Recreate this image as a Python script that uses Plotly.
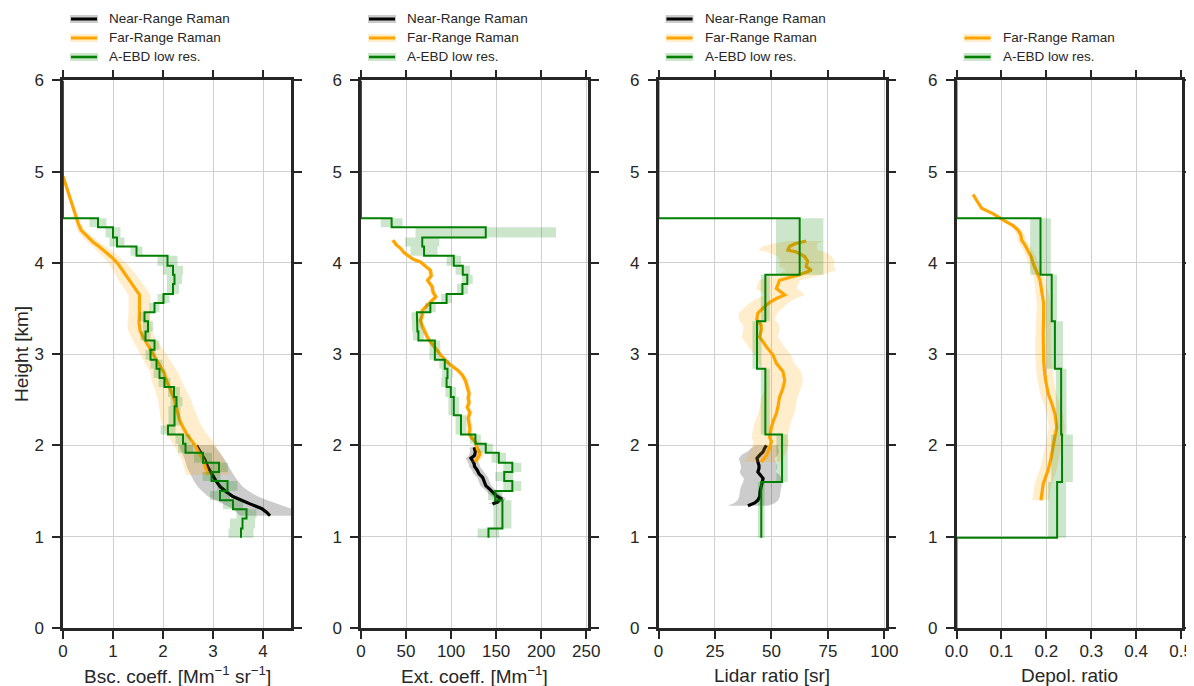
import plotly.graph_objects as go

# ---------------- data ----------------
# fine A-EBD height bin edges [km]
H_EDGES = [0.99, 1.09, 1.20, 1.30, 1.40, 1.50, 1.61, 1.71, 1.81, 1.92, 2.02, 2.12,
           2.22, 2.33, 2.43, 2.53, 2.64, 2.74, 2.84, 2.94, 3.05, 3.15, 3.25, 3.36,
           3.46, 3.56, 3.66, 3.77, 3.87, 3.97, 4.08, 4.18, 4.28, 4.39, 4.49]
# coarse A-EBD height bin edges [km]
H_COARSE = [0.99, 1.60, 2.12, 2.84, 3.36, 3.87, 4.49]

BSC_EBD = [3.56, 3.59, 3.67, 3.40, 3.14, 3.29, 2.97, 3.12, 2.80, 2.45, 2.40, 2.10,
           2.23, 2.23, 2.27, 2.22, 2.03, 1.93, 1.87, 1.75, 1.83, 1.65, 1.70, 1.63,
           1.83, 2.01, 2.20, 2.23, 2.20, 2.09, 1.47, 1.08, 1.00, 0.70]
BSC_EBD_ERR = [0.25, 0.25, 0.2, 0.2, 0.2, 0.2, 0.18, 0.18, 0.18, 0.15, 0.15, 0.15,
               0.12, 0.12, 0.12, 0.12, 0.12, 0.12, 0.12, 0.1, 0.1, 0.1, 0.1, 0.1,
               0.1, 0.12, 0.12, 0.15, 0.2, 0.2, 0.12, 0.15, 0.15, 0.17]

EXT_EBD = [141.5, 157, 157, 157, 149, 168, 159, 168, 153, 138.5, 127, 111,
           111, 103, 103, 99.7, 95, 96, 93, 82, 82, 63.7, 62.6, 62,
           77, 95, 112.6, 118, 113, 103, 70, 68, 138.5, 34]
EXT_EBD_ERR = [12, 10, 10, 10, 8, 10, 10, 10, 8, 8, 6, 6,
               6, 6, 6, 6, 6, 6, 6, 6, 6, 6, 6, 6,
               6, 6, 6, 6, 8, 8, 15, 19, 78, 12]

LR_EBD = [45.5, 54.7, 47.3, 43.6, 47.3, 62.5]
LR_EBD_ERR = [1.5, 2.5, 2.0, 2.0, 2.0, 10.5]

DEP_EBD = [0.224, 0.235, 0.233, 0.219, 0.212, 0.187]
DEP_EBD_ERR = [0.02, 0.024, 0.012, 0.018, 0.012, 0.023]

# Far-range Raman
BSC_FAR_H = [1.68, 1.76, 1.84, 1.92, 2.00, 2.07, 2.13, 2.20, 2.28, 2.39, 2.50, 2.61, 2.71,
             2.79, 2.88, 2.97, 3.05, 3.12, 3.19, 3.26, 3.35, 3.45, 3.55, 3.65, 3.73,
             3.81, 3.90, 3.99, 4.06, 4.12, 4.18, 4.23, 4.30, 4.36, 4.44, 4.51, 4.60,
             4.69, 4.78, 4.87, 4.95]
BSC_FAR = [2.90, 2.85, 2.80, 2.72, 2.64, 2.55, 2.47, 2.40, 2.33, 2.28, 2.23, 2.15, 2.07,
           2.03, 1.93, 1.83, 1.75, 1.67, 1.60, 1.54, 1.52, 1.53, 1.53, 1.53, 1.43,
           1.33, 1.22, 1.10, 0.98, 0.86, 0.72, 0.60, 0.46, 0.36, 0.30, 0.26, 0.21,
           0.16, 0.11, 0.06, 0.00]
BSC_FAR_ERR = [0.44, 0.43, 0.42, 0.42, 0.42, 0.41, 0.40, 0.39, 0.38, 0.35, 0.33, 0.31, 0.30,
               0.28, 0.27, 0.26, 0.25, 0.25, 0.24, 0.24, 0.23, 0.22, 0.22, 0.22, 0.22,
               0.22, 0.20, 0.18, 0.16, 0.15, 0.13, 0.12, 0.10, 0.08, 0.05, 0.04, 0.03,
               0.03, 0.02, 0.02, 0.01]

EXT_FAR_H = [1.82, 1.86, 1.90, 1.93, 1.97, 2.01, 2.04, 2.08, 2.13, 2.18, 2.24, 2.30,
             2.36, 2.42, 2.47, 2.52, 2.57, 2.64, 2.71, 2.77, 2.82, 2.88, 2.94, 3.01,
             3.08, 3.15, 3.20, 3.26, 3.31, 3.37, 3.42, 3.48, 3.52, 3.55, 3.59, 3.63,
             3.68, 3.74, 3.78, 3.81, 3.86, 3.92, 3.96, 4.01, 4.04, 4.07, 4.11, 4.16,
             4.20, 4.25]
EXT_FAR = [127, 130, 132, 131, 129, 128, 127, 123, 120, 121, 120, 119,
           121, 118, 120, 119, 120, 118, 116, 112.6, 108, 99.7, 93, 87,
           81, 76, 73, 70, 68, 66, 68, 68, 72, 76, 80, 83,
           80, 79, 76, 74, 78, 77, 72, 66, 58, 53, 48, 44,
           39, 35.5]
EXT_FAR_ERR = [4, 4, 4, 4, 3, 3, 3, 3, 3, 3, 3, 3,
               3, 3, 3, 3, 3, 3, 3, 3, 3, 3, 3, 3,
               3, 3, 3, 3, 3, 3, 3, 3, 3, 3, 3, 3,
               3, 3, 3, 3, 3, 3, 3, 3, 3, 3, 3, 3,
               3, 3]

LR_FAR_H = [1.82, 1.89, 1.96, 2.04, 2.09, 2.14, 2.20, 2.28, 2.35, 2.44, 2.53, 2.62,
            2.71, 2.81, 2.90, 2.99, 3.08, 3.19, 3.26, 3.32, 3.38, 3.45, 3.50, 3.54,
            3.58, 3.61, 3.65, 3.69, 3.72, 3.77, 3.81, 3.84, 3.87, 3.92, 3.96, 4.02,
            4.07, 4.12, 4.14, 4.18, 4.21, 4.24]
LR_FAR = [45.5, 47.8, 49, 50, 49.2, 49.5, 50, 51, 52.2, 53, 53.6, 55,
          55.9, 55.1, 52.2, 50.7, 47.8, 44.8, 45.5, 45.5, 43.5, 44, 46, 47.8,
          50, 52.2, 55.9, 54, 52.2, 53, 53.6, 58, 62.5, 67.7, 65.4, 66,
          64.7, 61, 57.3, 58, 60.3, 65.4]
LR_FAR_ERR = [8, 8, 8, 8, 8, 8, 8, 8, 8, 8, 8, 8,
              8, 8, 8, 8, 8, 8, 8, 8, 8, 8.5, 8.5, 8.5,
              8.5, 8.5, 9, 9, 9, 9, 9, 10, 10, 11, 12, 12,
              12, 13, 13, 12, 10, 8]

DEP_FAR_H = [1.40, 1.50, 1.58, 1.65, 1.73, 1.85, 1.98, 2.10, 2.20, 2.28, 2.35, 2.46,
             2.57, 2.70, 2.80, 2.93, 3.10, 3.23, 3.40, 3.56, 3.68, 3.81, 3.90, 3.99,
             4.07, 4.14, 4.20, 4.25, 4.31, 4.36, 4.41, 4.45, 4.50, 4.54, 4.57, 4.60,
             4.66, 4.71, 4.75]
DEP_FAR = [0.188, 0.190, 0.193, 0.198, 0.204, 0.210, 0.215, 0.220, 0.223, 0.221, 0.219, 0.212,
           0.204, 0.199, 0.196, 0.194, 0.193, 0.193, 0.194, 0.194, 0.190, 0.186, 0.179, 0.171,
           0.166, 0.159, 0.152, 0.145, 0.143, 0.137, 0.126, 0.111, 0.095, 0.081, 0.068, 0.056,
           0.048, 0.042, 0.037]
DEP_FAR_ERR = [0.019, 0.019, 0.019, 0.019, 0.019, 0.019, 0.018, 0.018, 0.018, 0.018, 0.018, 0.018,
               0.018, 0.018, 0.018, 0.018, 0.018, 0.017, 0.016, 0.015, 0.014, 0.013, 0.012, 0.011,
               0.011, 0.01, 0.01, 0.01, 0.009, 0.008, 0.007, 0.006, 0.005, 0.004, 0.004, 0.003,
               0.003, 0.003, 0.003]

# Near-range Raman
BSC_NEAR_H = [1.23, 1.27, 1.31, 1.33, 1.36, 1.40, 1.44, 1.49, 1.55, 1.62, 1.69, 1.76, 1.84, 1.92, 2.00]
BSC_NEAR = [4.14, 4.07, 3.97, 3.87, 3.74, 3.57, 3.40, 3.27, 3.14, 3.05, 2.97, 2.90, 2.84, 2.76, 2.67]
BSC_NEAR_ERR = [0.6, 0.6, 0.58, 0.57, 0.55, 0.52, 0.5, 0.47, 0.45, 0.44, 0.43, 0.42, 0.40, 0.38, 0.35]

EXT_NEAR_H = [1.36, 1.38, 1.42, 1.45, 1.51, 1.56, 1.60, 1.65, 1.69, 1.73, 1.77, 1.80,
              1.83, 1.86, 1.89, 1.93, 1.98]
EXT_NEAR = [146, 151.5, 155, 150, 144, 138.5, 137, 135, 131, 129, 126, 125.6,
            124, 122, 126, 127, 125.6]
EXT_NEAR_ERR = [5, 6, 6, 6, 6, 6, 6, 6, 6, 6, 6, 6, 6, 6, 6, 6, 5]

LR_NEAR_H = [1.34, 1.37, 1.40, 1.44, 1.50, 1.55, 1.60, 1.64, 1.68, 1.71, 1.75, 1.78,
             1.82, 1.86, 1.90, 1.93, 1.97, 2.00]
LR_NEAR = [39.6, 42.6, 44, 44.8, 45, 45.5, 46, 46.3, 45, 44, 44.5, 44.5,
           44, 43.6, 45, 46.3, 47, 47.8]
LR_NEAR_ERR = [9, 9, 9, 9, 9, 9, 8.5, 8.5, 8.5, 8, 8, 8, 8, 8, 8, 7, 6, 5]

X_TITLES = ["Bsc. coeff. [Mm<sup>−1</sup> sr<sup>−1</sup>]", "Ext. coeff. [Mm<sup>−1</sup>]",
            "Lidar ratio [sr]", "Depol. ratio"]
X_TICKS = [[0, 1, 2, 3, 4], [0, 50, 100, 150, 200, 250], [0, 25, 50, 75, 100],
           [0.0, 0.1, 0.2, 0.3, 0.4, 0.5]]
X_TICKTEXT = [["0", "1", "2", "3", "4"], ["0", "50", "100", "150", "200", "250"],
              ["0", "25", "50", "75", "100"], ["0.0", "0.1", "0.2", "0.3", "0.4", "0.5"]]
X_RANGES = [[0, 4.56], [0, 252], [0, 100.5], [0, 0.502]]
Y_TICKS = [0, 1, 2, 3, 4, 5, 6]
Y_RANGE = [0, 6]
LEGEND_LABELS = ["Near-Range Raman", "Far-Range Raman", "A-EBD low res."]

# ---------------- styles ----------------
# the page body has an 8px margin: the figure is placed at screen (8, 8)
OFF = 8
SCREEN_W, SCREEN_H = 1194, 686
W, H = SCREEN_W - OFF, SCREEN_H - OFF
PANEL_PX = [(63, 291), (361, 588), (658.5, 885.5), (956.5, 1182)]
Y_TOP_PX, Y_BOT_PX = 80.4, 628
FONT = "Liberation Sans, Arial, Helvetica, sans-serif"
TXT = "#262626"
C_NEAR, C_FAR, C_EBD = "black", "#FFA500", "#008000"
F_NEAR, F_FAR, F_EBD = "rgba(0,0,0,0.2)", "rgba(255,165,0,0.2)", "rgba(0,128,0,0.2)"


def px(x):
    return (x - OFF) / W


def py(y):
    return 1 - (y - OFF) / H


def band(h, v, e):
    xs = [a - b for a, b in zip(v, e)] + [a + b for a, b in zip(v[::-1], e[::-1])]
    ys = list(h) + list(h[::-1])
    return xs, ys


def step_line(edges, vals, zero_below=False):
    xs, ys = [], []
    if zero_below:
        xs += [0, 0]
        ys += [0, edges[0]]
    for i, v in enumerate(vals):
        xs += [v, v]
        ys += [edges[i], edges[i + 1]]
    xs += [0, 0]
    ys += [edges[-1], Y_RANGE[1]]
    return xs, ys


def step_band(edges, vals, errs):
    lx, ly, rx, ry = [], [], [], []
    for i, (v, e) in enumerate(zip(vals, errs)):
        lx += [v - e, v - e]
        ly += [edges[i], edges[i + 1]]
    for i in range(len(vals) - 1, -1, -1):
        v, e = vals[i], errs[i]
        rx += [v + e, v + e]
        ry += [edges[i + 1], edges[i]]
    return lx + rx, ly + ry


fig = go.Figure()


def add_band(xs, ys, color, k):
    fig.add_trace(go.Scatter(x=xs, y=ys, fill="toself", fillcolor=color, mode="lines",
                             line=dict(width=0), hoverinfo="skip", showlegend=False,
                             xaxis=f"x{k}", yaxis=f"y{k}"))


def add_line(xs, ys, color, width, k):
    fig.add_trace(go.Scatter(x=xs, y=ys, mode="lines", line=dict(color=color, width=width),
                             showlegend=False, xaxis=f"x{k}", yaxis=f"y{k}"))


panels = [
    dict(near=(BSC_NEAR_H, BSC_NEAR, BSC_NEAR_ERR), far=(BSC_FAR_H, BSC_FAR, BSC_FAR_ERR),
         ebd=(H_EDGES, BSC_EBD, BSC_EBD_ERR), zero_below=False),
    dict(near=(EXT_NEAR_H, EXT_NEAR, EXT_NEAR_ERR), far=(EXT_FAR_H, EXT_FAR, EXT_FAR_ERR),
         ebd=(H_EDGES, EXT_EBD, EXT_EBD_ERR), zero_below=False),
    dict(near=(LR_NEAR_H, LR_NEAR, LR_NEAR_ERR), far=(LR_FAR_H, LR_FAR, LR_FAR_ERR),
         ebd=(H_COARSE, LR_EBD, LR_EBD_ERR), zero_below=False),
    dict(near=None, far=(DEP_FAR_H, DEP_FAR, DEP_FAR_ERR),
         ebd=(H_COARSE, DEP_EBD, DEP_EBD_ERR), zero_below=True),
]

for i, p in enumerate(panels):
    k = "" if i == 0 else str(i + 1)
    if p["near"]:
        h, v, e = p["near"]
        add_band(*band(h, v, e), F_NEAR, k)
        add_line(v, h, C_NEAR, 3.2, k)
    h, v, e = p["far"]
    add_band(*band(h, v, e), F_FAR, k)
    add_line(v, h, C_FAR, 3.2, k)
    edges, v, e = p["ebd"]
    add_band(*step_band(edges, v, e), F_EBD, k)
    add_line(*step_line(edges, v, p["zero_below"]), C_EBD, 2, k)

layout = dict(width=W, height=H, margin=dict(l=0, r=0, t=0, b=0, autoexpand=False),
              paper_bgcolor="white", plot_bgcolor="white",
              font=dict(family=FONT, color=TXT, size=17), showlegend=False)

ydom = [py(Y_BOT_PX), py(Y_TOP_PX)]
axis_common = dict(showline=True, linewidth=2.5, linecolor=TXT, mirror="ticks",
                   ticks="outside", ticklen=8, tickwidth=1.6, tickcolor=TXT,
                   showgrid=True, gridcolor="#d0d0d0", gridwidth=1.4, zeroline=False,
                   automargin=False,
                   tickfont=dict(size=17, color=TXT, family=FONT))
annotations, shapes = [], []
for i in range(4):
    k = "" if i == 0 else str(i + 1)
    x0, x1 = PANEL_PX[i]
    layout[f"xaxis{k}"] = dict(domain=[px(x0), px(x1)], range=X_RANGES[i],
                               tickvals=X_TICKS[i], ticktext=X_TICKTEXT[i],
                               anchor=f"y{k}", ticklabelstandoff=-2, **axis_common)
    layout[f"yaxis{k}"] = dict(domain=ydom, range=Y_RANGE, tickvals=Y_TICKS,
                               anchor=f"x{k}", ticklabelstandoff=5, **axis_common)
    annotations.append(dict(x=px((x0 + x1) / 2), y=py(675), xref="paper", yref="paper",
                            text=X_TITLES[i], showarrow=False, xanchor="center",
                            yanchor="middle", font=dict(size=19, color=TXT, family=FONT)))
    # legend drawn manually: band + line + label
    entries = [(0, C_NEAR, F_NEAR, 3), (1, C_FAR, F_FAR, 3), (2, C_EBD, F_EBD, 2.6)]
    if i == 3:
        entries = entries[1:]
    for idx, lc, fc, lw in entries:
        yc = 19 + 19 * idx
        shapes.append(dict(type="rect", xref="paper", yref="paper",
                           x0=px(x0 + 7), x1=px(x0 + 35),
                           y0=py(yc + 4), y1=py(yc - 4),
                           fillcolor=fc, line=dict(width=0)))
        shapes.append(dict(type="line", xref="paper", yref="paper",
                           x0=px(x0 + 8), x1=px(x0 + 34),
                           y0=py(yc), y1=py(yc),
                           line=dict(color=lc, width=lw)))
        annotations.append(dict(x=px(x0 + 44), y=py(yc), xref="paper", yref="paper",
                                text=LEGEND_LABELS[idx], showarrow=False, xanchor="left",
                                yanchor="middle", font=dict(size=13.5, color=TXT, family=FONT)))

annotations.append(dict(x=px(21), y=py(354), xref="paper", yref="paper",
                        text="Height [km]", showarrow=False, textangle=-90,
                        xanchor="center", yanchor="middle",
                        font=dict(size=19, color=TXT, family=FONT)))
layout["annotations"] = annotations
layout["shapes"] = shapes
fig.update_layout(**layout)
fig.write_html("out.html")
